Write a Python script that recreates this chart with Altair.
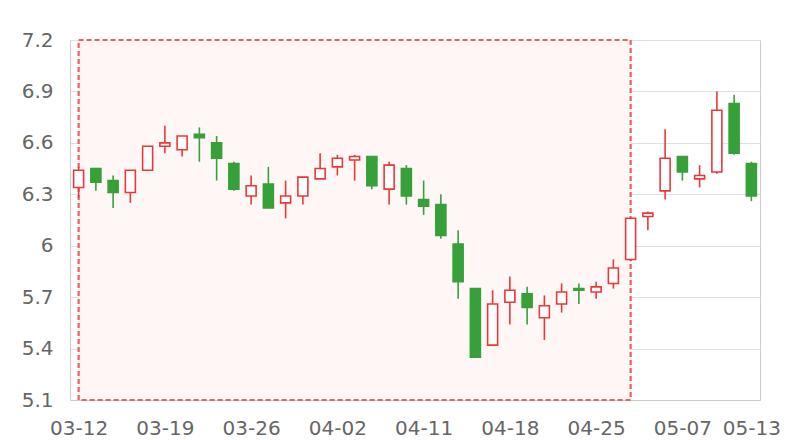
import altair as alt
import pandas as pd

dates = ["03-12","03-13","03-14","03-15","03-18","03-19","03-20","03-21","03-22","03-25",
         "03-26","03-27","03-28","03-29","04-01","04-02","04-03","04-08","04-09","04-10",
         "04-11","04-12","04-15","04-16","04-17","04-18","04-19","04-22","04-23","04-24",
         "04-25","04-26","04-29","04-30","05-06","05-07","05-08","05-09","05-10","05-13"]
open_ = [6.34,6.45,6.38,6.31,6.44,6.58,6.56,6.65,6.60,6.48,
         6.29,6.36,6.25,6.29,6.39,6.46,6.50,6.52,6.33,6.45,
         6.27,6.24,6.01,5.75,5.42,5.67,5.72,5.58,5.66,5.75,
         5.73,5.78,5.92,6.17,6.32,6.52,6.39,6.43,6.83,6.48]
close = [6.44,6.37,6.31,6.44,6.58,6.60,6.64,6.63,6.51,6.33,
         6.35,6.22,6.29,6.40,6.45,6.51,6.52,6.35,6.47,6.29,
         6.23,6.06,5.79,5.35,5.66,5.74,5.64,5.65,5.73,5.74,
         5.76,5.87,6.16,6.19,6.51,6.43,6.41,6.79,6.54,6.29]
high = [6.46,6.45,6.41,6.44,6.58,6.70,6.64,6.69,6.64,6.49,
        6.41,6.46,6.38,6.40,6.54,6.53,6.53,6.52,6.49,6.47,
        6.38,6.30,6.09,5.75,5.74,5.82,5.76,5.71,5.78,5.78,
        5.79,5.92,6.16,6.20,6.68,6.52,6.47,6.90,6.88,6.49]
low = [6.28,6.32,6.22,6.25,6.44,6.54,6.52,6.49,6.38,6.32,
       6.24,6.22,6.16,6.24,6.39,6.41,6.38,6.33,6.24,6.24,
       6.18,6.04,5.69,5.35,5.42,5.54,5.54,5.45,5.61,5.66,
       5.69,5.75,5.91,6.09,6.27,6.38,6.34,6.42,6.53,6.26]

tick_labels = ["03-12","03-19","03-26","04-02","04-11","04-18","04-25","05-07","05-13"]
y_ticks = [5.1, 5.4, 5.7, 6.0, 6.3, 6.6, 6.9, 7.2]
area_start, area_end = "03-12", "04-29"

RED = "#e8393a"
GREEN = "#36a039"

df = pd.DataFrame({"idx": list(range(len(dates))), "date": dates,
                   "open": open_, "close": close, "high": high, "low": low})
df["dir"] = ["up" if c >= o else "down" for o, c in zip(open_, close)]

area_df = pd.DataFrame({"x0": [dates.index(area_start)], "x1": [dates.index(area_end)],
                        "y0": [min(y_ticks)], "y1": [max(y_ticks)]})

label_arr = "[" + ",".join("'%s'" % d for d in dates) + "]"
xscale = alt.Scale(domain=[-0.5, len(dates) - 0.5], nice=False, zero=False)
yscale = alt.Scale(domain=[min(y_ticks), max(y_ticks)], nice=False, zero=False)

xaxis = alt.Axis(values=[dates.index(t) for t in tick_labels], labelExpr=label_arr + "[datum.value]",
                 grid=False, ticks=False, labelAngle=0, title=None, labelPadding=18,
                 domainColor="#cccccc", labelColor="#666666", labelFontSize=20,
                 labelFont="DejaVu Sans", labelFlush=False, labelOverlap=False)
yaxis = alt.Axis(values=y_ticks, format=".1~f", grid=True, gridColor="#e0e0e0", ticks=False,
                 title=None, labelPadding=17, domainColor="#cccccc", labelColor="#666666",
                 labelFontSize=20, labelFont="DejaVu Sans")

area = alt.Chart(area_df).mark_rect(fill="#fff6f6", stroke="#f25c5c", strokeWidth=2.2,
                                    strokeDash=[5, 3]).encode(
    x=alt.X("x0:Q", scale=xscale, axis=xaxis),
    x2="x1:Q",
    y=alt.Y("y0:Q", scale=yscale, axis=yaxis),
    y2="y1:Q",
)

dir_stroke = alt.Stroke("dir:N", scale=alt.Scale(domain=["up", "down"], range=[RED, GREEN]), legend=None)

wick = alt.Chart(df).mark_rule(strokeWidth=1.6).encode(
    x=alt.X("idx:Q", scale=xscale),
    y=alt.Y("low:Q", scale=yscale),
    y2="high:Q",
    stroke=dir_stroke,
)

body = alt.Chart(df).mark_bar(size=10, strokeWidth=1.6).encode(
    x=alt.X("idx:Q", scale=xscale),
    y=alt.Y("open:Q", scale=yscale),
    y2="close:Q",
    stroke=dir_stroke,
    fill=alt.Fill("dir:N", scale=alt.Scale(domain=["up", "down"], range=["#ffffff", GREEN]), legend=None),
)

chart = alt.layer(area, wick, body).properties(
    width=690, height=360,
    autosize=alt.AutoSizeParams(type="none"),
    padding={"left": 62, "top": 32, "right": 32, "bottom": 40},
).configure_view(stroke="#cccccc").configure_scale(continuousPadding=0)

chart.save("out.html", embed_options={"renderer": "svg", "actions": False})
